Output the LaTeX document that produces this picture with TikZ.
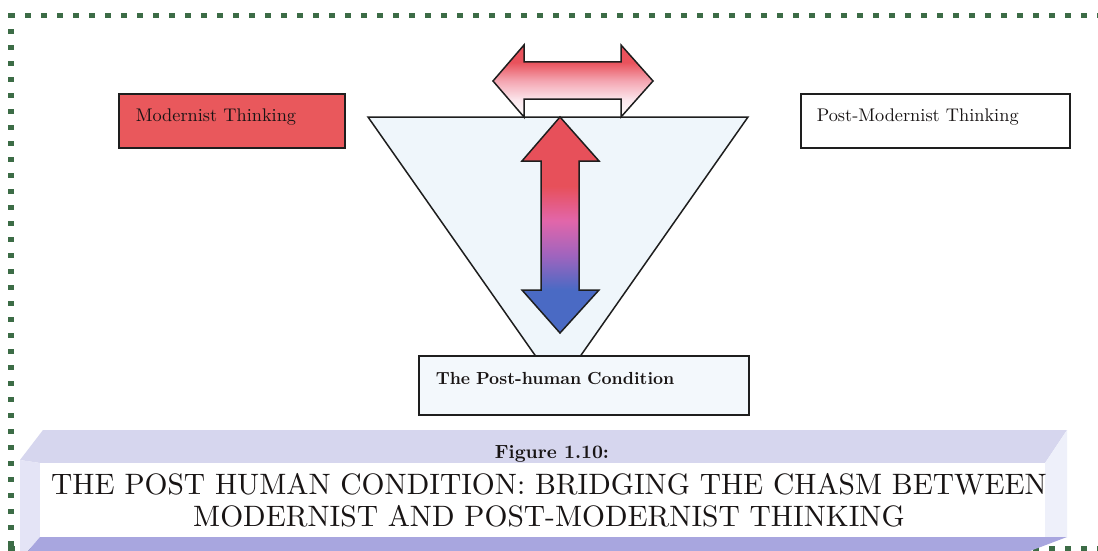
\documentclass[tikz,border=0pt]{standalone}
\usepackage{fontspec}
% one design size at every point size, so large text keeps its weight
\setmainfont{lmroman10-regular.otf}[BoldFont=lmroman10-bold.otf]

% palette
\definecolor{dotgreen}{RGB}{60,108,70}
\definecolor{inkline}{RGB}{30,30,30}
\definecolor{textink}{RGB}{24,20,20}
\definecolor{modred}{RGB}{233,88,92}
\definecolor{funnelfill}{RGB}{239,246,251}
\definecolor{basefill}{RGB}{243,248,252}
\definecolor{arrred}{RGB}{231,80,90}
\definecolor{arrpink}{RGB}{226,102,170}
\definecolor{arrpurple}{RGB}{160,100,190}
\definecolor{arrblue}{RGB}{74,106,196}
\definecolor{hred}{RGB}{233,82,92}
\definecolor{hpink}{RGB}{244,166,178}
\definecolor{hpale}{RGB}{252,230,236}
\definecolor{bandtop}{RGB}{214,214,238}
\definecolor{bandleft}{RGB}{228,228,246}
\definecolor{bandright}{RGB}{238,240,250}
\definecolor{bandbottom}{RGB}{168,166,223}

% colour ramps for the two double arrows (0bp = bottom, 100bp = top)
\pgfdeclareverticalshading{vramp}{100bp}{color(0bp)=(arrblue); color(35bp)=(arrblue);
  color(43bp)=(arrpurple); color(51bp)=(arrpink); color(59bp)=(arrred); color(100bp)=(arrred)}
\pgfdeclareverticalshading{hramp}{100bp}{color(0bp)=(white); color(25bp)=(white);
  color(37bp)=(hpale); color(50bp)=(hpink); color(63bp)=(hred); color(100bp)=(hred)}

\begin{document}
\begin{tikzpicture}[x=1pt,y=-1pt,
  dot/.style={fill=dotgreen},
  outline/.style={draw=inkline, line width=1.5pt, line join=miter},
  labelbox/.style={draw=inkline, line width=1.6pt, inner ysep=0pt, align=left,
    anchor=north west, text=textink},
  boxfont/.style={font=\fontsize{18.3}{22}\selectfont},
  basefont/.style={font=\fontsize{17.5}{21}\selectfont\bfseries},
  capfont/.style={font=\fontsize{29.5}{34}\selectfont, text=textink},
  fignofont/.style={font=\fontsize{19}{23}\selectfont\bfseries, text=textink}]

\useasboundingbox (0,0) rectangle (1098,551);
\fill[white] (0,0) rectangle (1098,551);

% dotted page frame
\fill[dot] (8,13) rectangle ++(7,5);
\foreach \k in {0,...,67} \fill[dot] ({25+16*\k},13) rectangle ++(6,5);
\foreach \k in {0,...,32} \fill[dot] (8,{29+16*\k}) rectangle ++(6,5);
\fill[dot] (8,546) rectangle ++(7,5);
\foreach \k in {0,...,67} \fill[dot] ({25+16*\k},546) rectangle ++(6,5);

% funnel
\path[outline, fill=funnelfill] (368,117) -- (748,117) -- (558,388) -- cycle;

% left-right double arrow on the rim of the funnel
\path[outline, shading=hramp] (493,81) -- (524,45) -- (524,62) -- (621,62) -- (621,45)
  -- (653,81) -- (621,117) -- (621,99) -- (524,99) -- (524,117) -- cycle;

% up-down double arrow inside the funnel
\path[outline, shading=vramp] (560,117) -- (599,161) -- (579,161) -- (579,290) -- (599,290)
  -- (560,333) -- (522,290) -- (541,290) -- (541,161) -- (522,161) -- cycle;

% labelled boxes
\node[labelbox, boxfont, fill=modred, inner xsep=17pt, text width=192pt,
  text height=28pt, text depth=26pt] (modern) at (118,93) {Modernist Thinking};
\node[labelbox, boxfont, fill=white, inner xsep=16pt, text width=237pt,
  text height=28pt, text depth=26pt] (postmodern) at (800,93) {Post-Modernist Thinking};
\node[labelbox, basefont, fill=basefill, inner xsep=17pt, text width=296pt,
  text height=29pt, text depth=30pt] (posthuman) at (418,355) {The Post-human Condition};

% caption banner
\fill[bandtop] (43,430) -- (1067,430) -- (1045,463) -- (40,463) -- (20,460) -- cycle;
\fill[bandleft] (20,460) -- (40,463) -- (40,537) -- (28,551) -- (20,551) -- cycle;
\fill[bandright] (1045,463) -- (1067,430) -- (1067,537) -- (1045,537) -- cycle;
\fill[white] (40,463) rectangle (1045,537);
\fill[bandbottom] (40,537) -- (1067,537) -- (1030,551) -- (28,551) -- cycle;

\node[fignofont, anchor=base] (figno) at (552,458) {Figure 1.10:};
\node[capfont, anchor=base] (capone) at (549,494)
  {THE POST HUMAN CONDITION: BRIDGING THE CHASM BETWEEN};
\node[capfont, anchor=base] (captwo) at (549,526)
  {MODERNIST AND POST-MODERNIST THINKING};
\end{tikzpicture}
\end{document}
